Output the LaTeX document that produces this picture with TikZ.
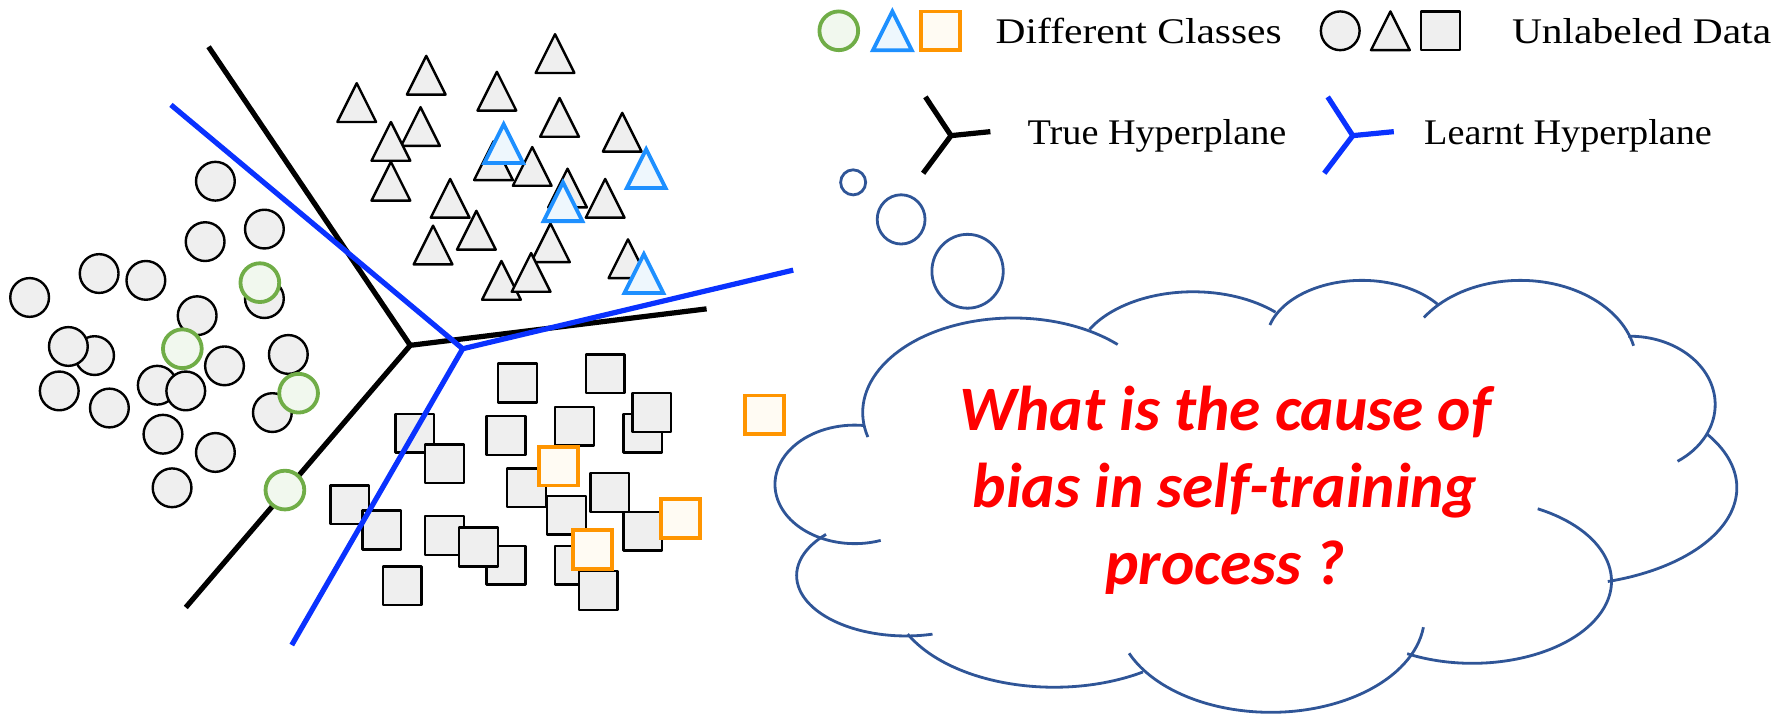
\documentclass[tikz,border=0pt]{standalone}
\usepackage{fontspec}
\newfontfamily\legendfont[FakeStretch=1.15]{Liberation Serif}
\newfontfamily\legendfontb[FakeStretch=1.06]{Liberation Serif}
\newfontfamily\askfont{Carlito}
\definecolor{unlgray}{HTML}{EFEFEF}
\definecolor{clsgreen}{HTML}{70AD47}
\definecolor{clsgreenfill}{HTML}{F1F8EE}
\definecolor{clsblue}{HTML}{1E90FF}
\definecolor{clsbluefill}{HTML}{EEF7FD}
\definecolor{clsorange}{HTML}{FF9500}
\definecolor{clsorangefill}{HTML}{FFFBF3}
\definecolor{hpblue}{HTML}{0A32FF}
\definecolor{cloudblue}{HTML}{2F5597}

% one data point each: [style]{x}{y}
\newcommand{\circpt}[3][unl]{\draw[#1] (#2,#3) circle[radius=17];}
\newcommand{\tript}[3][unl]{\draw[#1] (#2-17,#3+17) -- (#2,#3-17) -- (#2+17,#3+17) -- cycle;}
\newcommand{\sqpt}[3][unl]{\draw[#1] (#2-17,#3-17) rectangle (#2+17,#3+17);}
% one puff of the cloud: {cx}{cy}{rx}{ry}{from}{to}
\newcommand{\lobe}[6]{\draw[cloudln] (#1,#2) ++(#5:#3 and #4)
  arc[start angle=#5, end angle=#6, x radius=#3, y radius=#4];}

\begin{document}
\begin{tikzpicture}[x=0.01cm, y=-0.01cm,
  unl/.style={draw=black, fill=unlgray, line width=0.6pt, line join=round},
  grn/.style={draw=clsgreen, fill=clsgreenfill, line width=0.95pt},
  blu/.style={draw=clsblue, fill=clsbluefill, line width=0.95pt},
  org/.style={draw=clsorange, fill=clsorangefill, line width=0.95pt},
  truehp/.style={draw=black, line width=1.3pt},
  learnthp/.style={draw=hpblue, line width=1.3pt},
  cloudln/.style={draw=cloudblue, line width=0.7pt},
  leg/.style={anchor=base west, inner sep=0pt, font=\legendfont\fontsize{9}{11}\selectfont},
  legb/.style={leg, font=\legendfontb\fontsize{9}{11}\selectfont},
  ask/.style={align=center, inner sep=0pt, text=red,
    font=\askfont\bfseries\itshape\fontsize{15.8}{19.2}\selectfont}
]
  \useasboundingbox (0,0) rectangle (1568,626);

  % true hyperplane (under the points)
  \coordinate (tc)  at (360,303);
  \coordinate (tup) at (183,41);
  \coordinate (tdn) at (163,533);
  \coordinate (trt) at (620,271);
  \draw[truehp] (tup) -- (tc) -- (trt) (tc) -- (tdn);

  % circles
  \foreach \px/\py in {189/159, 232/201, 180/212, 87/240, 128/246, 26/261,
      232/262, 173/277, 83/312, 60/304, 197/321, 253/311, 138/338, 163/343,
      52/343, 96/358, 239/362, 143/381, 189/397, 151/428}
    \circpt{\px}{\py};
  \foreach \px/\py in {228/248, 160/306, 262/345, 250/430}
    \circpt[grn]{\px}{\py};

  % triangles
  \foreach \px/\py in {487/47, 374/66, 436/80, 313/90, 491/103, 369/111,
      343/124, 546/116, 433/141, 467/146, 343/159, 498/165, 395/174, 531/174,
      418/202, 380/215, 483/213, 551/227, 440/246, 466/239}
    \tript{\px}{\py};
  \foreach \px/\py in {442/126, 567/148, 494/177, 565/240}
    \tript[blu]{\px}{\py};

  % squares
  \foreach \px/\py in {454/336, 531/328, 564/380, 572/362, 504/374, 444/382,
      364/380, 390/407, 462/428, 535/432, 497/452, 564/466, 307/443, 335/465,
      390/470, 444/496, 420/480, 504/496, 525/518, 353/514}
    \sqpt{\px}{\py};
  \foreach \px/\py in {490/409, 597/455, 520/482, 671/364}
    \sqpt[org]{\px}{\py};

  % learnt hyperplane (over the points)
  \coordinate (lc)  at (406,306);
  \coordinate (lup) at (150,92);
  \coordinate (ldn) at (256,566);
  \coordinate (lrt) at (696,237);
  \draw[learnthp] (lup) -- (lc) -- (lrt) (lc) -- (ldn);

  % legend
  \circpt[grn]{736}{27}
  \tript[blu]{783}{27}
  \sqpt[org]{825}{27}
  \node[leg] (lgcls) at (873,38) {Different Classes};
  \circpt{1176}{27}
  \tript{1220}{27}
  \sqpt{1264}{27}
  \node[leg] (lgunl) at (1326,38) {Unlabeled Data};

  \coordinate (ltc) at (834.5,119);
  \draw[truehp] (812,85) -- (ltc) -- (869,115.5) (ltc) -- (810,152);
  \node[legb] (lgtrue) at (901,127) {True Hyperplane};
  \coordinate (llc) at (1187,119);
  \draw[learnthp] (1165,85) -- (llc) -- (1223,115.5) (llc) -- (1162,152);
  \node[legb] (lglearnt) at (1249,127) {Learnt Hyperplane};

  % thought bubbles
  \draw[cloudln] (748.6,160) ellipse[x radius=11, y radius=11];
  \draw[cloudln] (790.7,192.5) ellipse[x radius=21, y radius=21.6];
  \draw[cloudln] (849,238) ellipse[x radius=31.3, y radius=32.4];

  % cloud, one puff at a time (clockwise from the top left)
  \lobe{889}{362}{132}{83}{165}{314}
  \lobe{1047}{320}{104}{64}{209}{314}
  \lobe{1195}{300}{84}{54}{196}{322}
  \lobe{1334}{320}{102}{74}{214}{347}
  \lobe{1430}{355}{75}{60}{269}{416}
  \lobe{1364}{428}{160}{86}{327}{433}
  \lobe{1292}{510}{122}{72}{298}{478}
  \lobe{1115}{540}{135}{85}{7}{157}
  \lobe{925}{520}{143}{83}{57}{154}
  \lobe{795}{505}{96}{53}{76}{223}
  \lobe{750}{425}{70}{52}{71}{276}

  \node[ask] (question) at (1075,430)
    {What is the cause of\\bias in self-training\\process ?};
\end{tikzpicture}
\end{document}
